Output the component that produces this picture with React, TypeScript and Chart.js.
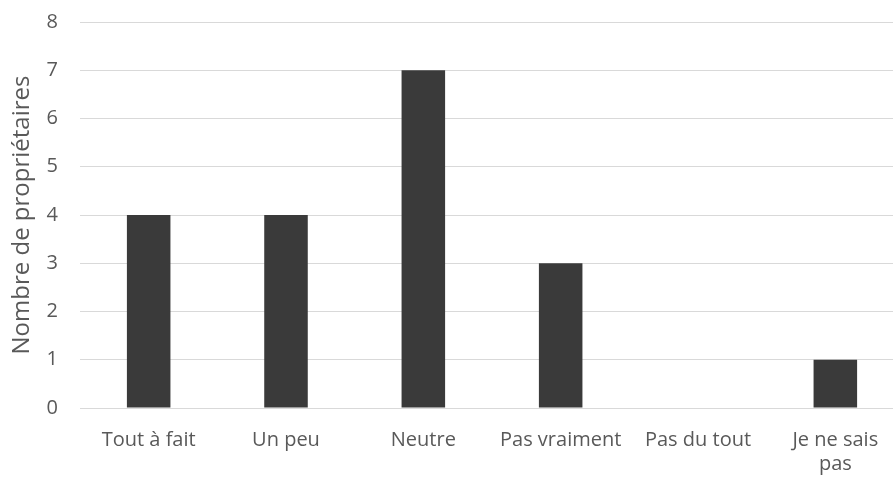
import React, { useEffect, useRef } from "react";
import { Chart, registerables } from "chart.js";

Chart.register(...registerables);

const categories: (string | string[])[] = ["Tout à fait", "Un peu", "Neutre", "Pas vraiment", "Pas du tout", ["Je ne sais", "pas"]];
const values = [4, 4, 7, 3, 0, 1];
const yTicks = [0, 1, 2, 3, 4, 5, 6, 7, 8];
const axisTitle = "Nombre de propriétaires";

export default function App() {
  const ref = useRef<HTMLCanvasElement>(null);
  useEffect(() => {
    document.body.style.margin = "0";
    const ctx = ref.current!;
    const font = "'Open Sans', 'Liberation Sans', sans-serif";
    const chart = new Chart(ctx, {
      type: "bar",
      data: {
        labels: categories,
        datasets: [
          {
            data: values,
            backgroundColor: "#3a3a3a",
            borderWidth: 0,
            categoryPercentage: 1,
            barPercentage: 0.317,
          },
        ],
      },
      options: {
        animation: false,
        responsive: false,
        maintainAspectRatio: false,
        layout: { padding: { top: 0, right: 0, left: 0, bottom: 0 } },
        plugins: { legend: { display: false }, tooltip: { enabled: false } },
        scales: {
          x: {
            grid: { display: false },
            border: { color: "#d9d9d9", width: 1 },
            afterFit: (axis: any) => {
              axis.height = 69;
              axis.paddingRight = 0;
              axis.paddingLeft = 0;
            },
            ticks: {
              color: "#595959",
              font: { family: font, size: 20 },
              padding: 12,
              maxRotation: 0,
              autoSkip: false,
            },
          },
          y: {
            min: 0,
            max: 8,
            afterBuildTicks: (axis: any) => {
              axis.ticks = yTicks.map((v) => ({ value: v }));
            },
            afterFit: (axis: any) => {
              axis.width = 80;
              axis.paddingTop = 22;
            },
            grid: { color: "#d9d9d9", lineWidth: 1, drawTicks: false },
            border: { display: false },
            ticks: {
              color: "#595959",
              font: { family: font, size: 20 },
              padding: 22,
            },
            title: {
              display: true,
              text: axisTitle,
              color: "#595959",
              font: { family: font, size: 24 },
              padding: { top: 8, bottom: 0 },
            },
          },
        },
      },
    });
    return () => chart.destroy();
  }, []);
  return (
    <div style={{ width: 893, height: 477, overflow: "hidden" }}>
      <canvas ref={ref} width={904} height={477} style={{ display: "block" }} />
    </div>
  );
}
